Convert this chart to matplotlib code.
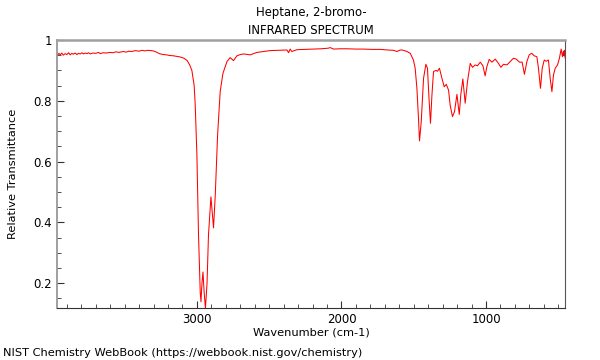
import matplotlib
matplotlib.use('Agg')
import matplotlib.pyplot as plt
from matplotlib.ticker import MultipleLocator, FormatStrFormatter

title = 'Heptane, 2-bromo-\nINFRARED SPECTRUM'

# wavenumber (cm-1) and relative transmittance
wavenumber = [3966, 3955, 3946, 3935, 3925, 3911, 3900, 3888, 3877, 3865, 3855, 3842,
              3830, 3820, 3807, 3795, 3785, 3773, 3760, 3750, 3738, 3720, 3700, 3680,
              3669, 3650, 3630, 3600, 3580, 3560, 3540, 3510, 3490, 3470, 3450, 3427,
              3400, 3380, 3360, 3340, 3320, 3302, 3280, 3260, 3233, 3210, 3190, 3164,
              3140, 3115, 3090, 3067, 3050, 3035, 3019, 3012, 3000, 2989, 2977, 2972,
              2965, 2958, 2950, 2941, 2930, 2920, 2903, 2885, 2873, 2857, 2839, 2820,
              2792, 2770, 2747, 2723, 2700, 2678, 2631, 2585, 2540, 2493, 2440, 2400,
              2377, 2366, 2355, 2343, 2308, 2250, 2193, 2140, 2090, 2078, 2055, 2010,
              1962, 1900, 1847, 1790, 1732, 1680, 1640, 1616, 1594, 1582, 1565, 1547,
              1524, 1513, 1502, 1490, 1478, 1467, 1460, 1448, 1432, 1416, 1405, 1393,
              1384, 1374, 1363, 1347, 1336, 1322, 1305, 1289, 1275, 1259, 1248, 1232,
              1218, 1201, 1185, 1174, 1160, 1144, 1128, 1109, 1093, 1075, 1059, 1040,
              1021, 1006, 994, 978, 959, 936, 914, 897, 879, 855, 833, 810,
              791, 768, 750, 734, 717, 701, 683, 667, 648, 637, 623, 611,
              597, 584, 568, 556, 544, 533, 521, 505, 492, 480, 471, 465,
              461, 458, 455, 452]

transmittance = [0.948, 0.956, 0.951, 0.957, 0.950, 0.955, 0.952, 0.958, 0.951, 0.956, 0.953, 0.957,
                 0.952, 0.956, 0.954, 0.958, 0.954, 0.957, 0.955, 0.958, 0.954, 0.957, 0.956, 0.959,
                 0.955, 0.958, 0.957, 0.959, 0.958, 0.961, 0.959, 0.962, 0.960, 0.963, 0.962, 0.965,
                 0.963, 0.966, 0.964, 0.966, 0.965, 0.964, 0.960, 0.955, 0.952, 0.951, 0.949, 0.948,
                 0.946, 0.944, 0.940, 0.932, 0.918, 0.900, 0.850, 0.790, 0.620, 0.360, 0.170, 0.139,
                 0.200, 0.237, 0.170, 0.118, 0.200, 0.358, 0.484, 0.382, 0.490, 0.687, 0.830, 0.890,
                 0.929, 0.942, 0.932, 0.948, 0.952, 0.954, 0.951, 0.959, 0.962, 0.965, 0.966, 0.967,
                 0.967, 0.958, 0.970, 0.962, 0.968, 0.969, 0.970, 0.971, 0.973, 0.975, 0.970, 0.971,
                 0.971, 0.970, 0.970, 0.969, 0.969, 0.967, 0.966, 0.962, 0.967, 0.967, 0.965, 0.962,
                 0.956, 0.945, 0.934, 0.907, 0.841, 0.742, 0.668, 0.731, 0.874, 0.920, 0.907, 0.797,
                 0.726, 0.819, 0.896, 0.900, 0.897, 0.907, 0.874, 0.846, 0.854, 0.835, 0.786, 0.748,
                 0.764, 0.821, 0.755, 0.821, 0.872, 0.792, 0.863, 0.923, 0.910, 0.918, 0.915, 0.927,
                 0.915, 0.882, 0.912, 0.936, 0.927, 0.937, 0.923, 0.910, 0.920, 0.918, 0.929, 0.940,
                 0.937, 0.927, 0.927, 0.887, 0.929, 0.951, 0.956, 0.948, 0.945, 0.907, 0.841, 0.907,
                 0.934, 0.930, 0.934, 0.874, 0.830, 0.885, 0.907, 0.918, 0.940, 0.970, 0.945, 0.962,
                 0.948, 0.966, 0.950, 0.940]

fig = plt.figure(figsize=(6, 3.6), dpi=100)
ax = fig.add_axes([0.095, 0.144, 0.847, 0.745])

ax.plot(wavenumber, transmittance, color='red', linewidth=0.75)

ax.set_xlim(3968, 452)
ax.set_ylim(0.118, 1.0)

ax.xaxis.set_major_locator(MultipleLocator(1000))
ax.xaxis.set_minor_locator(MultipleLocator(100))
ax.yaxis.set_major_locator(MultipleLocator(0.2))
ax.yaxis.set_minor_locator(MultipleLocator(0.05))
ax.yaxis.set_major_formatter(FormatStrFormatter('%g'))

ax.tick_params(which='both', direction='in', top=False, right=False,
               labelsize=8.5, color='#333333')
ax.tick_params(which='major', length=5)
ax.tick_params(which='minor', length=3)

ax.spines['top'].set_color('#a0a0a0')
ax.spines['top'].set_linewidth(1.8)
ax.spines['left'].set_color('#909090')
ax.spines['left'].set_linewidth(1.2)
ax.spines['bottom'].set_color('#333333')
ax.spines['right'].set_color('#555555')

ax.set_title(title, fontsize=8.4, pad=4, linespacing=1.5)
ax.set_xlabel('Wavenumber (cm-1)', fontsize=8.2, labelpad=1)
ax.set_ylabel('Relative Transmittance', fontsize=8.2, labelpad=11)

fig.text(0.005, 0.012, 'NIST Chemistry WebBook (https://webbook.nist.gov/chemistry)', fontsize=8.2)

fig.savefig('out.png', dpi=100)
